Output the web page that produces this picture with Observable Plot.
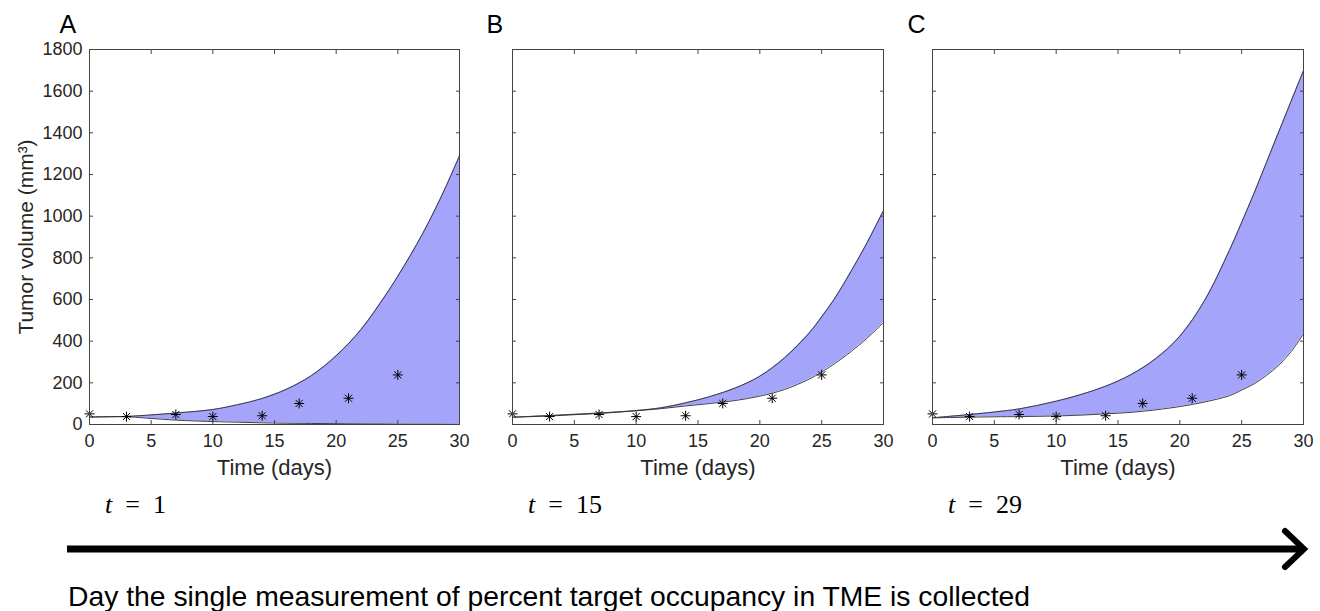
<!DOCTYPE html>
<html>
<head>
<meta charset="utf-8">
<script src="https://cdn.jsdelivr.net/npm/d3@7"></script>
<script src="https://cdn.jsdelivr.net/npm/@observablehq/plot@0.6"></script>
<style>
  body { margin: 0; background: #fff; }
  #root { position: relative; width: 1320px; height: 611px; overflow: hidden; font-family: "Liberation Sans", Arial, sans-serif; }
  .panel { position: absolute; top: 0; }
  #deco { position: absolute; left: 0; top: 0; }
</style>
</head>
<body>
<div id="root"></div>
<script>
// ---------------- data ----------------
const panelLetters = ["A", "B", "C"];
const measurementDay = [1, 15, 29];

const curveDays = [0, 3, 5, 7, 10, 12, 14, 16, 18, 20, 22, 24, 25, 26, 27, 28, 29, 30];
const upperA = [36, 39, 46, 55, 72, 95, 125, 170, 235, 330, 455, 620, 712, 810, 915, 1030, 1155, 1290];
const lowerA = [36, 37, 29, 21, 14, 11, 8, 6, 5, 4, 3, 2.5, 2, 2, 1.5, 1.5, 1, 1];
const upperB = [35, 43, 49, 55, 67, 80, 104, 135, 175, 232, 320, 440, 517, 600, 697, 800, 910, 1027];
const lowerB = [35, 41, 47, 53, 66, 76, 89, 101, 115, 136, 168, 218, 252, 290, 333, 380, 432, 490];
const upperC = [32, 48, 60, 75, 112, 144, 184, 238, 314, 424, 595, 835, 970, 1110, 1257, 1405, 1552, 1699];
const lowerC = [32, 35, 37, 38, 41, 45, 51, 58, 70, 86, 108, 138, 165, 195, 235, 285, 350, 435];

const obsDays = [0, 3, 7, 10, 14, 17, 21, 25];
const obsVolume = [51, 38, 48, 38, 42, 101, 126, 238];

const xTicks = [0, 5, 10, 15, 20, 25, 30];
const yTicks = [0, 200, 400, 600, 800, 1000, 1200, 1400, 1600, 1800];

const xLabel = "Time (days)";
const yLabel = "Tumor volume (mm³)";
const caption = "Day the single measurement of percent target occupancy in TME is collected";

// ---------------- drawing ----------------
const FONT = "'Liberation Sans', Arial, sans-serif";
const INK = "#262626";

// MATLAB-style '*' marker (plus + cross)
const asterisk = {
  draw(ctx, size) {
    const r = Math.sqrt(size / Math.PI);
    const d = r * Math.SQRT1_2;
    ctx.moveTo(-r, 0); ctx.lineTo(r, 0);
    ctx.moveTo(0, -r); ctx.lineTo(0, r);
    ctx.moveTo(-d, -d); ctx.lineTo(d, d);
    ctx.moveTo(-d, d); ctx.lineTo(d, -d);
  }
};

const series = [[upperA, lowerA], [upperB, lowerB], [upperC, lowerC]];
const layout = [
  {left: 0,   width: 470, marginLeft: 89, marginRight: 11, showY: true,  letterDx: -30},
  {left: 470, width: 420, marginLeft: 42, marginRight: 7,  showY: false, letterDx: -26},
  {left: 890, width: 420, marginLeft: 42, marginRight: 7,  showY: false, letterDx: -25}
];

const root = document.getElementById("root");
const obs = obsDays.map((t, i) => ({t, v: obsVolume[i]}));
const plain = d => String(d);
const blank = () => "";
const CURVE = "catmull-rom";

series.forEach(([upper, lower], p) => {
  const L = layout[p];
  const rows = curveDays.map((t, i) => ({t, hi: upper[i], lo: lower[i]}));
  const marks = [
    Plot.areaY(rows, {x: "t", y1: "lo", y2: "hi", fill: "#a4a4fa", curve: CURVE}),
    Plot.lineY(rows, {x: "t", y: "hi", stroke: "#2b2b2b", strokeWidth: 0.9, curve: CURVE}),
    Plot.lineY(rows, {x: "t", y: "lo", stroke: "#2b2b2b", strokeWidth: 0.9, curve: CURVE}),
    Plot.dot(obs, {x: "t", y: "v", symbol: asterisk, r: 5, stroke: "#000", fill: "none", strokeWidth: 1}),
    Plot.frame({stroke: "#444", strokeWidth: 1}),
    Plot.axisX({ticks: xTicks, anchor: "bottom", tickSize: 0, tickPadding: 10, tickFormat: plain, label: null, fontSize: 18, color: INK}),
    Plot.axisX({ticks: xTicks, anchor: "bottom", tickSize: -4, tickFormat: blank, label: null, stroke: "#444"}),
    Plot.axisX({ticks: xTicks, anchor: "top", tickSize: -4, tickFormat: blank, label: null, stroke: "#444"}),
    Plot.axisY({ticks: yTicks, anchor: "left", tickSize: -4, tickFormat: blank, label: null, stroke: "#444"}),
    Plot.axisY({ticks: yTicks, anchor: "right", tickSize: -4, tickFormat: blank, label: null, stroke: "#444"}),
    Plot.text([xLabel], {text: d => d, frameAnchor: "bottom", lineAnchor: "middle", dy: 43, fontSize: 22, fill: INK}),
    Plot.text([panelLetters[p]], {text: d => d, frameAnchor: "top-left", textAnchor: "start", lineAnchor: "top", dx: L.letterDx, dy: -34, fontSize: 25, fill: "#000"})
  ];
  if (L.showY) {
    marks.push(
      Plot.axisY({ticks: yTicks, anchor: "left", tickSize: 0, tickPadding: 7, tickFormat: plain, label: null, fontSize: 18, color: INK}),
      Plot.text([yLabel], {text: d => d, frameAnchor: "left", textAnchor: "middle", lineAnchor: "middle", dx: -63, rotate: -90, fontSize: 21, fill: INK})
    );
  }
  const svg = Plot.plot({
    width: L.width,
    height: 480,
    marginLeft: L.marginLeft,
    marginRight: L.marginRight,
    marginTop: 49,
    marginBottom: 56,
    x: {domain: [0, 30]},
    y: {domain: [0, 1800]},
    style: {fontFamily: FONT, fontSize: "18px", background: "transparent", overflow: "visible", color: INK},
    marks
  });
  const wrap = document.createElement("div");
  wrap.className = "panel";
  wrap.style.left = L.left + "px";
  wrap.appendChild(svg);
  root.appendChild(wrap);
});

// ---------------- annotations below the panels ----------------
const ns = "http://www.w3.org/2000/svg";
const deco = document.createElementNS(ns, "svg");
deco.setAttribute("id", "deco");
deco.setAttribute("width", 1320);
deco.setAttribute("height", 611);
root.appendChild(deco);

layout.forEach((L, p) => {
  const tx = document.createElementNS(ns, "text");
  tx.setAttribute("x", L.left + L.marginLeft + 16);
  tx.setAttribute("y", 513);
  tx.setAttribute("font-family", "'Liberation Serif', 'DejaVu Serif', serif");
  tx.setAttribute("font-size", 26);
  tx.setAttribute("fill", "#000");
  tx.style.whiteSpace = "pre";
  const it = document.createElementNS(ns, "tspan");
  it.setAttribute("font-style", "italic");
  it.textContent = "t";
  tx.appendChild(it);
  const rest = document.createElementNS(ns, "tspan");
  rest.textContent = "\u00a0\u00a0=\u00a0\u00a0" + measurementDay[p];
  tx.appendChild(rest);
  deco.appendChild(tx);
});

const line = document.createElementNS(ns, "line");
line.setAttribute("x1", 67); line.setAttribute("x2", 1300);
line.setAttribute("y1", 549); line.setAttribute("y2", 549);
line.setAttribute("stroke", "#000"); line.setAttribute("stroke-width", 7);
deco.appendChild(line);

const head = document.createElementNS(ns, "polyline");
head.setAttribute("points", "1285,531 1304,549 1285,567");
head.setAttribute("fill", "none");
head.setAttribute("stroke", "#000");
head.setAttribute("stroke-width", 6);
head.setAttribute("stroke-linecap", "round");
deco.appendChild(head);

const cap = document.createElementNS(ns, "text");
cap.setAttribute("x", 68);
cap.setAttribute("y", 606);
cap.setAttribute("font-family", FONT);
cap.setAttribute("font-size", 28.3);
cap.setAttribute("fill", "#000");
cap.textContent = caption;
deco.appendChild(cap);
</script>
</body>
</html>
